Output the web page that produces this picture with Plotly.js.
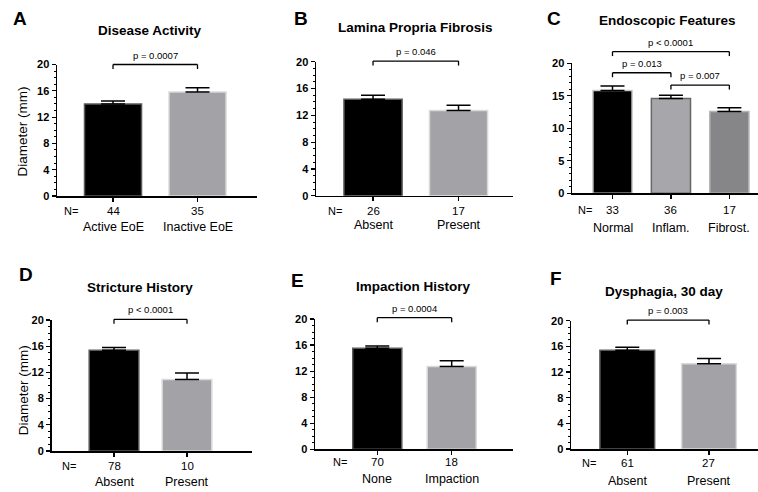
<!DOCTYPE html>
<html><head><meta charset="utf-8">
<script src="https://cdn.plot.ly/plotly-3.0.1.min.js"></script>
<style>html,body{margin:0;padding:0;background:#fff}#chart{width:758px;height:492px}</style>
</head><body><div id="chart"></div>
<script>
// ---------- Data ----------
const letters = ['A','B','C','D','E','F'];
const titles = ['Disease Activity','Lamina Propria Fibrosis','Endoscopic Features','Stricture History','Impaction History','Dysphagia, 30 day'];

const catsA = ['Active EoE','Inactive EoE'];
const nA = [44, 35];
const meanA = [14.0, 15.8];
const semA = [0.45, 0.65];

const catsB = ['Absent','Present'];
const nB = [26, 17];
const meanB = [14.4, 12.7];
const semB = [0.6, 0.8];

const catsC = ['Normal','Inflam.','Fibrost.'];
const nC = [33, 36, 17];
const meanC = [15.8, 14.6, 12.6];
const semC = [0.7, 0.5, 0.55];

const catsD = ['Absent','Present'];
const nD = [78, 10];
const meanD = [15.4, 10.9];
const semD = [0.4, 1.0];

const catsE = ['None','Impaction'];
const nE = [70, 18];
const meanE = [15.5, 12.7];
const semE = [0.35, 0.9];

const catsF = ['Absent','Present'];
const nF = [61, 27];
const meanF = [15.4, 13.3];
const semF = [0.45, 0.8];

// comparisons: [from index, to index, label, bracket level]
const compA = [[0, 1, 'p = 0.0007', 20.0]];
const compB = [[0, 1, 'p = 0.046', 20.1]];
const compC = [[0, 2, 'p < 0.0001', 21.8], [0, 1, 'p = 0.013', 18.55], [1, 2, 'p = 0.007', 16.65]];
const compD = [[0, 1, 'p < 0.0001', 20.1]];
const compE = [[0, 1, 'p = 0.0004', 20.2]];
const compF = [[0, 1, 'p = 0.003', 20.1]];

const yTicksStd = [0, 4, 8, 12, 16, 20];
const yTicksC = [0, 5, 10, 15, 20];

// ---------- Styling / geometry (pixels) ----------
const W = 758, H = 492;
const FONT = 'Liberation Sans, Arial, Helvetica, sans-serif';
const grayFill = '#a2a2a7', grayLine = '#dadada';
const blackLine = '#5a5a5a';

const panels = [
  {cats: catsA, n: nA, mean: meanA, sem: semA, comp: compA, ticks: yTicksStd,
   xpx: [57, 257], y0: 196, y20: 64.5, range: [-0.663, 1.704], bw: 0.675,
   fills: ['#000000', grayFill], lines: [blackLine, grayLine],
   letter: [20, 18.5], title: [150, 30.7], nRow: 211, catRow: 227, nEq: 71, ytitle: [22.7, 131.7]},
  {cats: catsB, n: nB, mean: meanB, sem: semB, comp: compB, ticks: yTicksStd,
   xpx: [316, 513], y0: 195.7, y20: 61.7, range: [-0.667, 1.637], bw: 0.68,
   fills: ['#000000', grayFill], lines: [blackLine, grayLine],
   letter: [300.5, 19], title: [415.8, 27.3], nRow: 210.7, catRow: 225, nEq: 335},
  {cats: catsC, n: nC, mean: meanC, sem: semC, comp: compC, ticks: yTicksC,
   xpx: [572, 758], y0: 193.3, y20: 63.3, range: [-0.693, 2.49], bw: 0.67,
   fills: ['#000000', '#a7a7ab', '#868688'], lines: ['#c8c8c8', '#666666', '#b5b5b5'],
   letter: [554, 18.3], title: [667.5, 20.7], nRow: 210, catRow: 227.7, nEq: 585},
  {cats: catsD, n: nD, mean: meanD, sem: semD, comp: compD, ticks: yTicksStd,
   xpx: [51.5, 252], y0: 451, y20: 320, range: [-0.856, 1.89], bw: 0.68,
   fills: ['#000000', grayFill], lines: [blackLine, grayLine],
   letter: [26.3, 274.5], title: [139.7, 287.7], nRow: 466, catRow: 481.7, nEq: 69, ytitle: [23.3, 390]},
  {cats: catsE, n: nE, mean: meanE, sem: semE, comp: compE, ticks: yTicksStd,
   xpx: [315, 513], y0: 449.3, y20: 319, range: [-0.837, 1.824], bw: 0.66,
   fills: ['#000000', grayFill], lines: [blackLine, grayLine],
   letter: [297.5, 280.5], title: [413.8, 286], nRow: 461.7, catRow: 479, nEq: 340},
  {cats: catsF, n: nF, mean: meanF, sem: semF, comp: compF, ticks: yTicksStd,
   xpx: [571, 758], y0: 449, y20: 320.7, range: [-0.689, 1.6], bw: 0.67,
   fills: ['#000000', grayFill], lines: [blackLine, grayLine],
   letter: [556, 278], title: [664, 291], nRow: 463, catRow: 481, nEq: 589}
];

const px = v => v / W;
const py = v => 1 - v / H;

const data = [];
const layout = {
  width: W, height: H,
  margin: {l: 0, r: 0, t: 0, b: 0},
  paper_bgcolor: '#ffffff', plot_bgcolor: 'rgba(0,0,0,0)',
  showlegend: false,
  font: {family: FONT, color: '#000'},
  annotations: [], shapes: []
};

panels.forEach((p, i) => {
  const k = i + 1;
  const xn = k === 1 ? 'x' : 'x' + k;
  const yn = k === 1 ? 'y' : 'y' + k;
  const idx = p.cats.map((c, j) => j);
  data.push({
    type: 'bar', x: idx, y: p.mean, width: p.bw,
    xaxis: xn, yaxis: yn,
    marker: {color: p.fills, line: {color: p.lines, width: 1.5}},
    error_y: {type: 'data', symmetric: false, array: p.sem, arrayminus: p.sem.map(() => 0),
              color: '#000', thickness: 1.5, width: 12},
    hoverinfo: 'skip'
  });
  layout['xaxis' + (k === 1 ? '' : k)] = {
    domain: [px(p.xpx[0]), px(p.xpx[1])], range: p.range, anchor: yn,
    showline: true, linecolor: '#000', linewidth: 1.5,
    ticks: 'outside', ticklen: 4, tickwidth: 1.2, tickcolor: '#000',
    tickvals: idx, showticklabels: false, showgrid: false, zeroline: false, fixedrange: true
  };
  layout['yaxis' + (k === 1 ? '' : k)] = {
    domain: [py(p.y0), py(p.y20)], range: [0, 20], anchor: xn,
    showline: true, linecolor: '#000', linewidth: 1.5,
    ticks: 'outside', ticklen: 4, tickwidth: 1.2, tickcolor: '#000',
    tickvals: p.ticks, ticktext: p.ticks.map(String),
    tickfont: {family: FONT, size: 11, weight: 'bold', color: '#000'},
    minor: {dtick: 1, ticks: 'outside', ticklen: 2, tickwidth: 1, tickcolor: '#000'},
    showgrid: false, zeroline: false, fixedrange: true
  };

  const xr = p.range;
  const dx = v => px(p.xpx[0] + (v - xr[0]) / (xr[1] - xr[0]) * (p.xpx[1] - p.xpx[0]));
  const dypx = v => p.y0 - v / 20 * (p.y0 - p.y20);

  layout.annotations.push({xref: 'paper', yref: 'paper', x: px(p.letter[0]), y: py(p.letter[1]),
    text: letters[i], showarrow: false, xanchor: 'center', yanchor: 'middle',
    font: {family: FONT, size: 19, weight: 'bold', color: '#000'}});
  layout.annotations.push({xref: 'paper', yref: 'paper', x: px(p.title[0]), y: py(p.title[1]),
    text: titles[i], showarrow: false, xanchor: 'center', yanchor: 'middle',
    font: {family: FONT, size: 13.5, weight: 'bold', color: '#000'}});
  if (p.ytitle) {
    layout.annotations.push({xref: 'paper', yref: 'paper', x: px(p.ytitle[0]), y: py(p.ytitle[1]),
      text: 'Diameter (mm)', textangle: -90, showarrow: false, xanchor: 'center', yanchor: 'middle',
      font: {family: FONT, size: 13.5, color: '#000'}});
  }
  layout.annotations.push({xref: 'paper', yref: 'paper', x: px(p.nEq), y: py(p.nRow),
    text: 'N=', showarrow: false, xanchor: 'center', yanchor: 'middle',
    font: {family: FONT, size: 11, color: '#000'}});
  p.cats.forEach((c, j) => {
    layout.annotations.push({xref: xn, yref: 'paper', x: j, y: py(p.nRow),
      text: String(p.n[j]), showarrow: false, xanchor: 'center', yanchor: 'middle',
      font: {family: FONT, size: 11.5, color: '#000'}});
    layout.annotations.push({xref: xn, yref: 'paper', x: j, y: py(p.catRow),
      text: c, showarrow: false, xanchor: 'center', yanchor: 'middle',
      font: {family: FONT, size: 12.5, color: '#000'}});
  });
  p.comp.forEach(cp => {
    const [a, b, label, lvl] = cp;
    const yl = dypx(lvl);
    const x0 = dx(a), x1 = dx(b);
    const ln = {color: '#000', width: 1.3};
    layout.shapes.push({type: 'line', xref: 'paper', yref: 'paper', x0: x0, x1: x1, y0: py(yl), y1: py(yl), line: ln});
    layout.shapes.push({type: 'line', xref: 'paper', yref: 'paper', x0: x0, x1: x0, y0: py(yl), y1: py(yl + 4.5), line: ln});
    layout.shapes.push({type: 'line', xref: 'paper', yref: 'paper', x0: x1, x1: x1, y0: py(yl), y1: py(yl + 4.5), line: ln});
    layout.annotations.push({xref: 'paper', yref: 'paper', x: (x0 + x1) / 2, y: py(yl - 2),
      text: label, showarrow: false, xanchor: 'center', yanchor: 'bottom',
      font: {family: FONT, size: 9.5, color: '#000'}});
  });
});

Plotly.newPlot('chart', data, layout, {staticPlot: true, displayModeBar: false});
</script>
</body></html>
